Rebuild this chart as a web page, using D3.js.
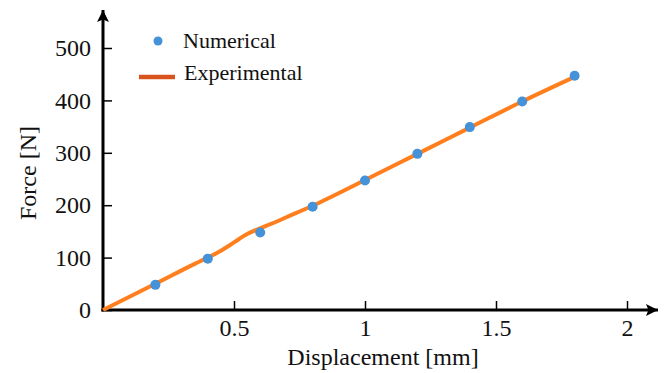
<!DOCTYPE html>
<head>
  <meta charset="utf-8">
  <script src="https://d3js.org/d3.v7.min.js"></script>
</head>
<body>
  <div id="chart"></div>

  <script>
    var width = 665;
    var height = 373;

    // numerical points
    var numX = [0.2, 0.4, 0.6, 0.8, 1.0, 1.2, 1.4, 1.6, 1.8];
    var numY = [48, 98, 148, 197, 247, 298, 349, 398, 447];

    // experimental curve
    var expX = [0, 0.2, 0.35, 0.4, 0.45, 0.5, 0.55, 0.6, 0.65, 0.7, 0.8, 1.0, 1.2, 1.4, 1.6, 1.8];
    var expY = [0, 50, 88, 100, 113, 129, 145, 156, 166, 177, 199, 248, 298, 348, 398, 445];

    var xTicks = [0.5, 1, 1.5, 2];
    var yTicks = [0, 100, 200, 300, 400, 500];

    var x = d3.scaleLinear().domain([0, 2]).range([103, 627]);
    var y = d3.scaleLinear().domain([0, 500]).range([310, 48]);

    var svg = d3.select('#chart')
      .append('svg')
        .attr('width', width)
        .attr('height', height)
        .style('font-family', '"Liberation Serif", "Times New Roman", serif');

    // arrow head
    svg.append('defs').append('marker')
        .attr('id', 'arrow')
        .attr('viewBox', '0 0 10 10')
        .attr('refX', 10)
        .attr('refY', 5)
        .attr('markerWidth', 7)
        .attr('markerHeight', 4)
        .attr('markerUnits', 'strokeWidth')
        .attr('orient', 'auto')
      .append('path')
        .attr('d', 'M0,0 L10,5 L0,10 L2,5 Z')
        .attr('fill', '#000');

    // x axis
    var xAxis = svg.append('g')
      .attr('transform', 'translate(0,' + y(0) + ')')
      .call(d3.axisBottom(x).tickValues(xTicks).tickSize(-9).tickPadding(9)
        .tickFormat(d3.format('')));
    xAxis.select('.domain').remove();

    // y axis
    var yAxis = svg.append('g')
      .attr('transform', 'translate(' + x(0) + ',0)')
      .call(d3.axisLeft(y).tickValues(yTicks).tickSize(-9).tickPadding(12));
    yAxis.select('.domain').remove();

    svg.selectAll('.tick line').attr('stroke', '#000').attr('stroke-width', 1.5);
    svg.selectAll('.tick text')
      .attr('font-size', 24)
      .attr('font-family', '"Liberation Serif", serif')
      .attr('fill', '#111');

    svg.append('line')
      .attr('x1', x(0) - 1.5).attr('x2', 658)
      .attr('y1', y(0)).attr('y2', y(0))
      .attr('stroke', '#000').attr('stroke-width', 3)
      .attr('marker-end', 'url(#arrow)');

    svg.append('line')
      .attr('x1', x(0)).attr('x2', x(0))
      .attr('y1', y(0) + 1.5).attr('y2', 10)
      .attr('stroke', '#000').attr('stroke-width', 3)
      .attr('marker-end', 'url(#arrow)');

    // axis titles
    svg.append('text')
      .attr('x', 383).attr('y', 365)
      .attr('text-anchor', 'middle')
      .attr('font-size', 24)
      .attr('fill', '#111')
      .text('Displacement [mm]');

    svg.append('text')
      .attr('transform', 'translate(36,173) rotate(-90)')
      .attr('text-anchor', 'middle')
      .attr('font-size', 24)
      .attr('fill', '#111')
      .text('Force [N]');

    // experimental line
    var expData = expX.map((d, i) => ({x: d, y: expY[i]}));
    var line = d3.line()
      .x(d => x(d.x))
      .y(d => y(d.y))
      .curve(d3.curveMonotoneX);

    svg.append('path')
      .datum(expData)
      .attr('fill', 'none')
      .attr('stroke', '#ff7f1e')
      .attr('stroke-width', 4)
      .attr('d', line);

    // numerical points
    var numData = numX.map((d, i) => ({x: d, y: numY[i]}));
    svg.append('g')
      .selectAll('circle')
      .data(numData)
      .join('circle')
        .attr('cx', d => x(d.x))
        .attr('cy', d => y(d.y))
        .attr('r', 5)
        .attr('fill', '#4592d8');

    // legend
    var legend = svg.append('g');
    legend.append('circle')
      .attr('cx', 158).attr('cy', 41).attr('r', 4.5)
      .attr('fill', '#4592d8');
    legend.append('text')
      .attr('x', 183).attr('y', 48)
      .attr('font-size', 22)
      .attr('fill', '#111')
      .text('Numerical');
    legend.append('line')
      .attr('x1', 139).attr('x2', 175)
      .attr('y1', 77).attr('y2', 77)
      .attr('stroke', '#d9531e').attr('stroke-width', 4.5);
    legend.append('text')
      .attr('x', 184).attr('y', 80)
      .attr('font-size', 22)
      .attr('fill', '#111')
      .text('Experimental');
  </script>
</body>

<style>
  body {
    margin: 0;
    background: #fff;
  }
</style>
